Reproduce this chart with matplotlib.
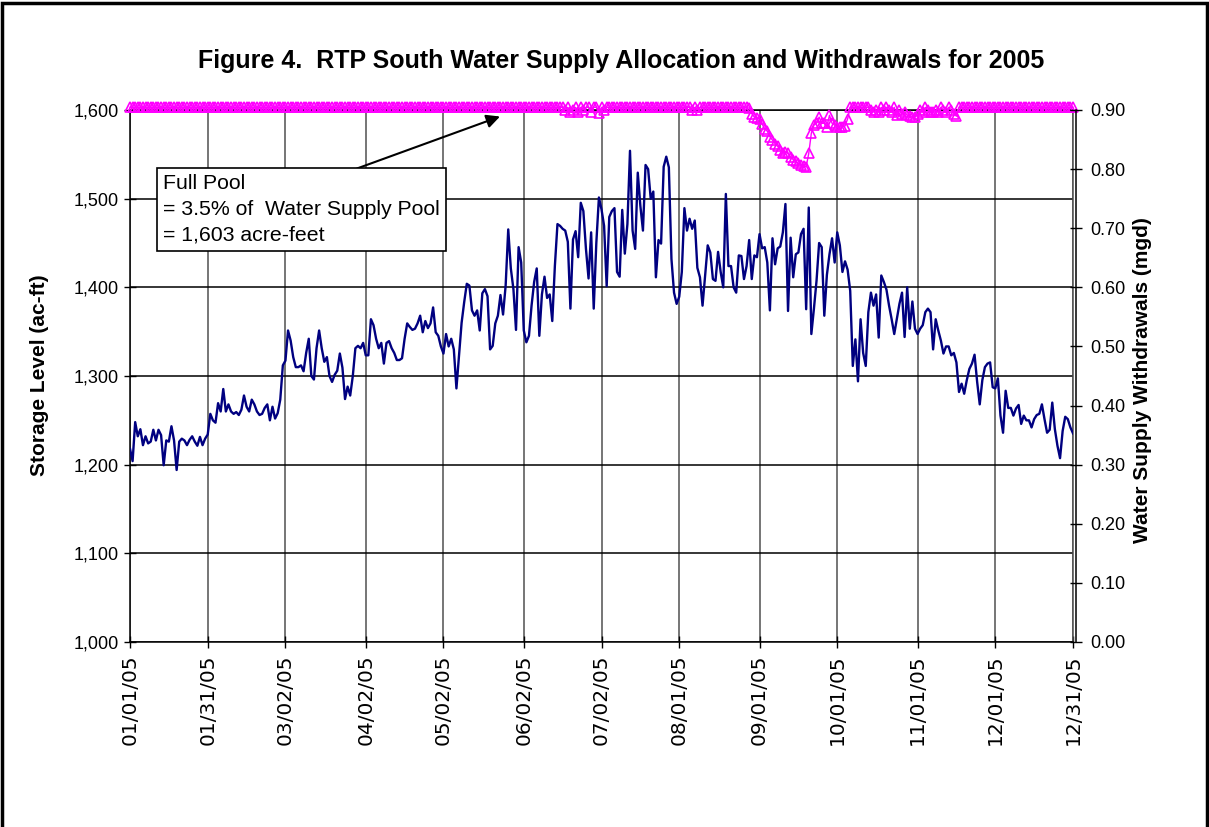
import matplotlib
matplotlib.use('Agg')
import matplotlib.pyplot as plt
from matplotlib.ticker import FuncFormatter
from matplotlib.patches import Rectangle
import pandas as pd

# ---------------- data ----------------
title = 'Figure 4.  RTP South Water Supply Allocation and Withdrawals for 2005'
left_label = 'Storage Level (ac-ft)'
right_label = 'Water Supply Withdrawals (mgd)'
note_text = 'Full Pool\n= 3.5% of  Water Supply Pool\n= 1,603 acre-feet'

tick_labels = ['01/01/05', '01/31/05', '03/02/05', '04/02/05', '05/02/05', '06/02/05',
               '07/02/05', '08/01/05', '09/01/05', '10/01/05', '11/01/05', '12/01/05',
               '12/31/05']
left_ticks = [1000, 1100, 1200, 1300, 1400, 1500, 1600]
right_ticks = [0.0, 0.1, 0.2, 0.3, 0.4, 0.5, 0.6, 0.7, 0.8, 0.9]

# daily water supply withdrawals (mgd)
withdrawals_jan = [0.327, 0.306, 0.372, 0.348, 0.360, 0.333, 0.348, 0.336, 0.339, 0.359, 0.341,
                   0.359, 0.350, 0.299, 0.341, 0.339, 0.365, 0.341, 0.291, 0.339, 0.344, 0.341,
                   0.333, 0.342, 0.348, 0.339, 0.332, 0.347, 0.333, 0.344, 0.351]
withdrawals_feb = [0.386, 0.375, 0.371, 0.404, 0.390, 0.428, 0.390, 0.402, 0.390, 0.386, 0.389,
                   0.384, 0.393, 0.417, 0.398, 0.390, 0.410, 0.402, 0.390, 0.384, 0.386, 0.396,
                   0.402, 0.375, 0.398, 0.378, 0.387, 0.410, 0.468, 0.476]
withdrawals_mar = [0.527, 0.510, 0.482, 0.465, 0.465, 0.468, 0.458, 0.489, 0.513, 0.450, 0.444,
                   0.497, 0.527, 0.497, 0.474, 0.482, 0.450, 0.440, 0.452, 0.459, 0.488, 0.464,
                   0.411, 0.432, 0.417, 0.450, 0.497, 0.501, 0.497, 0.506, 0.485]
withdrawals_apr = [0.485, 0.546, 0.536, 0.513, 0.497, 0.506, 0.471, 0.506, 0.509, 0.497, 0.489,
                   0.477, 0.477, 0.480, 0.513, 0.539, 0.533, 0.528, 0.530, 0.539, 0.552, 0.524,
                   0.543, 0.531, 0.539, 0.566, 0.524, 0.518, 0.500, 0.488]
withdrawals_may_jun = [0.521, 0.500, 0.513, 0.495, 0.429, 0.485, 0.540, 0.575, 0.606, 0.603, 0.561,
                       0.552, 0.561, 0.527, 0.590, 0.597, 0.585, 0.495, 0.501, 0.539, 0.552, 0.587,
                       0.554, 0.603, 0.698, 0.632, 0.597, 0.528, 0.668, 0.642, 0.527, 0.507, 0.518,
                       0.569, 0.609, 0.632, 0.518, 0.588, 0.618, 0.582, 0.588, 0.543, 0.636, 0.707,
                       0.704, 0.699, 0.696, 0.677, 0.564, 0.681, 0.695, 0.651, 0.743, 0.729, 0.665,
                       0.615, 0.693, 0.564, 0.675, 0.752, 0.732, 0.704, 0.602, 0.719, 0.729]
withdrawals_jul_aug = [0.734, 0.626, 0.618, 0.731, 0.657, 0.707, 0.831, 0.696, 0.665, 0.794, 0.738,
                       0.696, 0.807, 0.800, 0.750, 0.762, 0.617, 0.680, 0.674, 0.804, 0.821, 0.803,
                       0.648, 0.591, 0.572, 0.584, 0.626, 0.734, 0.696, 0.716, 0.699, 0.713, 0.633,
                       0.617, 0.569, 0.620, 0.671, 0.659, 0.614, 0.611, 0.660, 0.626, 0.600, 0.758,
                       0.636, 0.636, 0.600, 0.591, 0.654, 0.653, 0.614, 0.636, 0.680, 0.614, 0.654,
                       0.651, 0.690, 0.666, 0.668, 0.642, 0.561]
withdrawals_sep_oct = [0.683, 0.639, 0.666, 0.669, 0.693, 0.741, 0.560, 0.684, 0.617, 0.656, 0.659,
                       0.690, 0.699, 0.563, 0.735, 0.521, 0.564, 0.611, 0.675, 0.668, 0.552, 0.621,
                       0.656, 0.683, 0.642, 0.693, 0.671, 0.626, 0.644, 0.630, 0.594, 0.467, 0.512,
                       0.441, 0.546, 0.489, 0.467, 0.558, 0.591, 0.569, 0.588, 0.515, 0.620, 0.609,
                       0.596, 0.569, 0.546, 0.521, 0.546, 0.572, 0.591, 0.516, 0.600, 0.530, 0.576,
                       0.530]
withdrawals_nov_dec = [0.521, 0.530, 0.536, 0.558, 0.564, 0.558, 0.495, 0.546, 0.527, 0.510, 0.488,
                       0.500, 0.500, 0.485, 0.489, 0.473, 0.423, 0.437, 0.420, 0.443, 0.462, 0.471,
                       0.486, 0.440, 0.402, 0.443, 0.465, 0.471, 0.473, 0.431, 0.429, 0.446, 0.383,
                       0.354, 0.425, 0.396, 0.396, 0.383, 0.395, 0.401, 0.369, 0.383, 0.375, 0.375,
                       0.363, 0.377, 0.384, 0.386, 0.402, 0.377, 0.354, 0.359, 0.405, 0.360, 0.332,
                       0.311, 0.357, 0.381, 0.377, 0.363, 0.353]

# daily storage level (ac-ft)
storage_jan_jun = [1603] * 168
storage_jun_jul = [1600, 1603, 1598, 1600, 1603, 1598, 1603, 1600, 1603, 1603, 1598, 1603,
                   1603, 1597, 1603, 1600, 1603, 1603]
storage_jul = [1603] * 31
storage_aug_a = [1600, 1603, 1600, 1603]
storage_aug_b = [1603] * 18
storage_sep = [1602, 1596, 1592, 1591, 1590, 1584, 1579, 1576, 1570, 1566, 1562, 1559, 1555,
               1551, 1553, 1551, 1547, 1544, 1542, 1540, 1538, 1537, 1536, 1551, 1574, 1583,
               1585, 1592, 1585, 1585, 1581, 1594, 1585, 1583, 1581, 1581, 1581, 1582, 1590]
storage_oct_a = [1603] * 8
storage_oct_nov = [1600, 1598, 1600, 1598, 1603, 1600, 1603, 1600, 1598, 1603, 1594, 1600,
                   1596, 1598, 1594, 1593, 1592, 1592, 1595, 1600, 1598, 1603, 1600, 1598,
                   1598, 1600, 1598, 1603, 1600, 1598, 1603, 1600, 1596, 1593, 1603]
storage_nov_dec = [1603] * 44

withdrawals = (withdrawals_jan + withdrawals_feb + withdrawals_mar + withdrawals_apr +
               withdrawals_may_jun + withdrawals_jul_aug + withdrawals_sep_oct + withdrawals_nov_dec)
storage = (storage_jan_jun + storage_jun_jul + storage_jul + storage_aug_a + storage_aug_b +
           storage_sep + storage_oct_a + storage_oct_nov + storage_nov_dec)

n = min(len(withdrawals), len(storage))
dates = pd.date_range('2005-01-01', periods=n, freq='D')

# ---------------- figure ----------------
W, H = 1209, 827
fig = plt.figure(figsize=(W / 100, H / 100), dpi=100)
fig.patch.set_facecolor('white')

x0, x1, y0, y1 = 130, 1073, 110, 642
ax = fig.add_axes([x0 / W, 1 - y1 / H, (x1 - x0) / W, (y1 - y0) / H])
ax2 = ax.twinx()

regular = ['Liberation Sans', 'DejaVu Sans']

ax.plot(dates, storage[:n], color='#FF00FF', lw=1.0, marker='^', ms=7.5, mfc='none',
        mec='#FF00FF', mew=1.2, clip_on=False, zorder=3)
ax2.plot(dates, withdrawals[:n], color='#000080', lw=1.7, zorder=3)

ax.set_ylim(left_ticks[0], left_ticks[-1])
ax2.set_ylim(right_ticks[0], right_ticks[-1])
ax.set_xlim(dates[0], dates[-1])

tick_dates = pd.to_datetime(tick_labels, format='%m/%d/%y')
ax.set_xticks(tick_dates)
ax.set_xticklabels(tick_labels, rotation=90, fontsize=14.5, family='DejaVu Sans')
ax.set_yticks(left_ticks)
ax.yaxis.set_major_formatter(FuncFormatter(lambda v, p: f'{v:,.0f}'))
ax2.set_yticks(right_ticks)
ax2.yaxis.set_major_formatter(FuncFormatter(lambda v, p: f'{v:.2f}'))

ax.xaxis.grid(True, color='#505050', lw=1.1)
ax.yaxis.grid(True, color='black', lw=1.1)
ax.set_axisbelow(True)

for s in ['left', 'bottom', 'top', 'right']:
    ax.spines[s].set_color('black')
    ax.spines[s].set_linewidth(1.1)
ax.spines['right'].set_color('#505050')
for s in ['left', 'bottom', 'top']:
    ax2.spines[s].set_visible(False)
ax2.spines['right'].set_position(('outward', 2.5))
ax2.spines['right'].set_linewidth(1.1)

ax.tick_params(axis='x', direction='inout', length=8, width=1, pad=5, colors='black')
ax.tick_params(axis='y', direction='inout', length=8, width=1, pad=4, labelsize=13)
ax2.tick_params(axis='y', direction='inout', length=8, width=1, pad=6, labelsize=13)
for lab in ax.get_yticklabels() + ax2.get_yticklabels():
    lab.set_family(regular)

fig.text(621 / W, 1 - 61 / H, title, ha='center', va='center', fontsize=18,
         fontweight='bold', family=regular)
fig.text(40 / W, 1 - 375 / H, left_label, rotation=90, ha='center', va='center',
         fontsize=15, fontweight='bold', family=regular)
fig.text(1143 / W, 1 - 380 / H, right_label, rotation=90, ha='center', va='center',
         fontsize=15, fontweight='bold', family=regular)

fig.text(163 / W, 1 - 174 / H, note_text, ha='left', va='top', fontsize=15.3,
         family=regular, linespacing=1.45, zorder=5,
         bbox=dict(boxstyle='square,pad=0.3', fc='white', ec='black', lw=1.2))
ax.annotate('', xy=(500 / W, 1 - 116.5 / H), xytext=(357 / W, 1 - 168.5 / H),
            xycoords='figure fraction', textcoords='figure fraction',
            arrowprops=dict(arrowstyle='-|>', color='black', lw=1.5,
                            mutation_scale=20, shrinkA=0, shrinkB=0), zorder=6)

fig.add_artist(Rectangle((2 / W, -0.05), 1204.5 / W, 1.05 - 2.5 / H,
                         transform=fig.transFigure, fill=False, ec='black', lw=2.5))

fig.savefig('out.png', dpi=100)
